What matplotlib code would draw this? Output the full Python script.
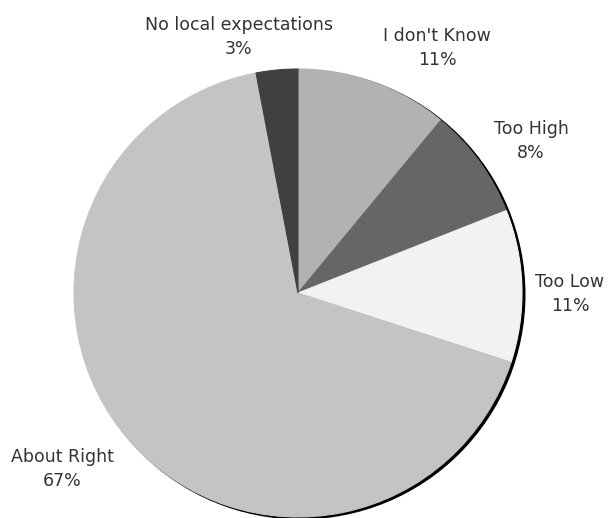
import matplotlib.pyplot as plt
from matplotlib.patches import Circle

labels = ["I don't Know", "Too High", "Too Low", "About Right", "No local expectations"]
shares = [11, 8, 11, 67, 3]
colors = ['#b2b2b2', '#666666', '#f2f2f2', '#c4c4c4', '#404040']

# label anchor points (pixel coords, origin top-left)
label_pos = [(437, 48), (531, 141), (570, 294), (62, 469), (239, 37)]

W, H = 608, 518
fig = plt.figure(figsize=(W / 100, H / 100), dpi=100)
ax = fig.add_axes([0, 0, 1, 1])

cx, cy, r = 298, H - 293, 224

# thin drop shadow behind the pie, offset right and down
ax.add_patch(Circle((cx + 2.5, cy - 1.5), r + 0.3, color='black', zorder=0))

wedges, _ = ax.pie(shares, colors=colors, startangle=90, counterclock=False,
                   center=(cx, cy), radius=r, frame=True,
                   wedgeprops=dict(linewidth=0.8, antialiased=True))
# edge in the slice's own colour hides the shadow bleeding through
for w in wedges:
    w.set_edgecolor(w.get_facecolor())

ax.set_xlim(0, W)
ax.set_ylim(0, H)
ax.set_aspect('equal')
ax.axis('off')

for lab, val, (x, y) in zip(labels, shares, label_pos):
    ax.text(x, H - y, f"{lab}\n{val}%", ha='center', va='center',
            fontsize=12.5, color='#333333', linespacing=1.4,
            family='DejaVu Sans')

fig.savefig('out.png', dpi=100)
